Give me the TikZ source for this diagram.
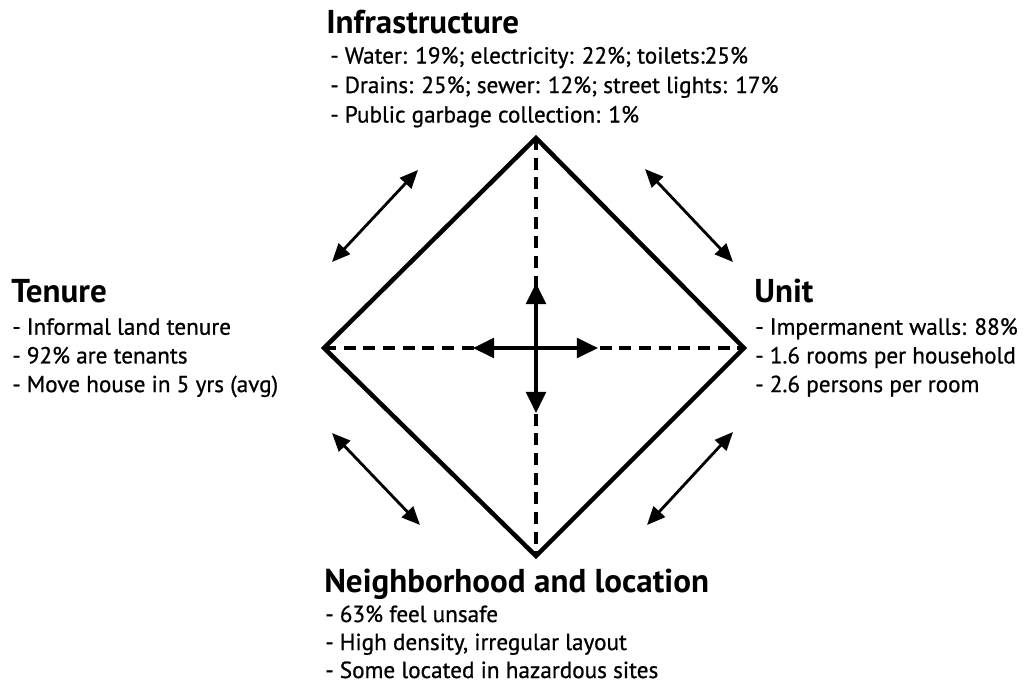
\documentclass[tikz,border=0pt]{standalone}
\usepackage{fontspec}
\setmainfont{PT Sans}
\newfontface\bodyface{PT Sans}[FakeBold=0.8]
\usetikzlibrary{arrows.meta}

\tikzset{
  head/.style={anchor=base west, inner sep=0pt, font=\fontsize{23.5}{26}\selectfont\bfseries},
  item/.style={anchor=base west, inner sep=0pt, font=\fontsize{16.5}{19}\bodyface},
  side/.style={line width=3.2pt, line join=miter},
  axis/.style={line width=2.4pt, dash pattern=on 8.5pt off 5.5pt},
  link/.style={line width=2pt, {Triangle[length=13pt,width=11pt]}-{Triangle[length=13pt,width=11pt]}},
  push/.style={line width=2.6pt, -{Triangle[length=15pt,width=14pt]}}
}

\begin{document}
\begin{tikzpicture}[x=0.025cm,y=-0.025cm]
\useasboundingbox (0,0) rectangle (1035,693);

% the corners
\coordinate (top) at (536,138);
\coordinate (left) at (324,348);
\coordinate (right) at (744,348);
\coordinate (bottom) at (536,556);
\coordinate (mid) at (536,348);

% the diamond
\draw[axis] (top) -- (bottom);
\draw[axis] (left) -- (right);
\draw[side] (top) -- (right) -- (bottom) -- (left) -- cycle;

% the cross
\coordinate (up) at (536,283);
\coordinate (down) at (536,413);
\coordinate (west) at (473,348);
\coordinate (east) at (598,348);
\foreach \e in {up,down,west,east}
    {\draw[push] (mid) -- (\e);};

% links between the corners
\coordinate (tl1) at (332,262);
\coordinate (tl2) at (418,170);
\coordinate (tr1) at (645,169);
\coordinate (tr2) at (733,262);
\coordinate (bl1) at (332,433);
\coordinate (bl2) at (420,525);
\coordinate (br1) at (647,525);
\coordinate (br2) at (733,432);
\draw[link] (tl1) -- (tl2);
\draw[link] (tr1) -- (tr2);
\draw[link] (bl1) -- (bl2);
\draw[link] (br1) -- (br2);

% the labels
\node[head] (infra) at (326,33) {Infrastructure};
\foreach \t [count=\i] in {{Water: 19\%; electricity: 22\%; toilets:25\%},
                           {Drains: 25\%; sewer: 12\%; street lights: 17\%},
                           {Public garbage collection: 1\%}}
    {\node[item] (infra\i) at (330,34+29.5*\i) {- \t};};

\node[head] (tenure) at (11,302) {Tenure};
\foreach \t [count=\i] in {{Informal land tenure},
                           {92\% are tenants},
                           {Move house in 5 yrs (avg)}}
    {\node[item] (tenure\i) at (12,306+28.7*\i) {- \t};};

\node[head] (unit) at (754,302) {Unit};
\foreach \t [count=\i] in {{Impermanent walls: 88\%},
                           {1.6 rooms per household},
                           {2.6 persons per room}}
    {\node[item] (unit\i) at (755,306+28.7*\i) {- \t};};

\node[head] (hood) at (324,592) {Neighborhood and location};
\foreach \t [count=\i] in {{63\% feel unsafe},
                           {High density, irregular layout},
                           {Some located in hazardous sites}}
    {\node[item] (hood\i) at (325,594+28*\i) {- \t};};
\end{tikzpicture}
\end{document}
